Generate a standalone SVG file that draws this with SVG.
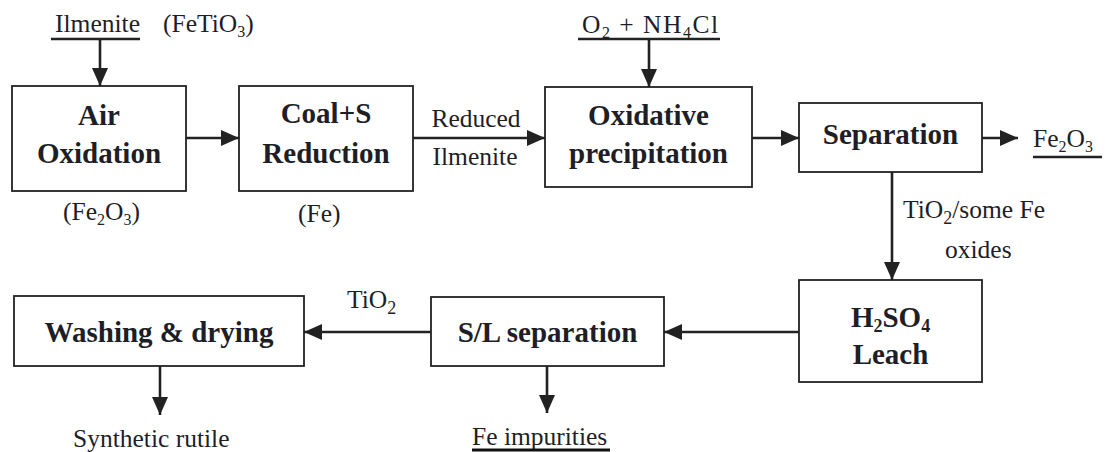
<svg xmlns="http://www.w3.org/2000/svg" width="1112" height="452" viewBox="0 0 1112 452">
<style>
.box{fill:none;stroke:#222;stroke-width:1.8}
.b{font-weight:bold;font-size:29px;fill:#1e1e26;text-anchor:middle}
.r{font-size:25.5px;fill:#1e1e26}
.c{stroke:#222;stroke-width:2.6;fill:none;marker-end:url(#ah)}
.u{stroke:#222;stroke-width:2.5}
</style>
<defs>
<marker id="ah" markerUnits="userSpaceOnUse" markerWidth="18" markerHeight="16" refX="18" refY="8" orient="auto">
<path d="M0,0 L18,8 L0,16 z" fill="#222"/>
</marker>
</defs>
<rect width="1112" height="452" fill="#fff"/>
<g id="connectors">
<line class="c" x1="100" y1="39" x2="100" y2="86"/>
<line class="c" x1="649" y1="39" x2="649" y2="87"/>
<line class="c" x1="186" y1="138" x2="239" y2="138"/>
<line class="c" x1="413" y1="138" x2="545" y2="138"/>
<line class="c" x1="752" y1="138" x2="799" y2="138"/>
<line class="c" x1="982" y1="138" x2="1018" y2="138"/>
<line class="c" x1="892" y1="172" x2="892" y2="280"/>
<line class="c" x1="799" y1="332" x2="664" y2="332"/>
<line class="c" x1="431" y1="332" x2="304" y2="332"/>
<line class="c" x1="160" y1="366" x2="160" y2="415"/>
<line class="c" x1="547" y1="366" x2="547" y2="413"/>
</g>
<g font-family="'Liberation Serif', 'DejaVu Serif', serif">
<g id="air-oxidation">
<rect class="box" x="12" y="86" width="174" height="105"/>
<text class="b" x="99" y="125">Air</text>
<text class="b" x="99" y="163">Oxidation</text>
</g>
<g id="reduction">
<rect class="box" x="239" y="86" width="174" height="105"/>
<text class="b" x="326" y="123">Coal+S</text>
<text class="b" x="326" y="163">Reduction</text>
</g>
<g id="oxidative-precipitation">
<rect class="box" x="545" y="87" width="207" height="100"/>
<text class="b" x="648.5" y="125">Oxidative</text>
<text class="b" x="648.5" y="163">precipitation</text>
</g>
<g id="separation">
<rect class="box" x="799" y="103" width="183" height="69"/>
<text class="b" x="890.5" y="144">Separation</text>
</g>
<g id="leach">
<rect class="box" x="799" y="280" width="183" height="102"/>
<text class="b" x="890.5" y="327">H<tspan font-size="18" dy="5">2</tspan><tspan dy="-5">SO</tspan><tspan font-size="18" dy="5">4</tspan></text>
<text class="b" x="890.5" y="364">Leach</text>
</g>
<g id="sl-separation">
<rect class="box" x="431" y="297" width="233" height="69"/>
<text class="b" x="547.5" y="342">S/L separation</text>
</g>
<g id="washing">
<rect class="box" x="14" y="296" width="290" height="70"/>
<text class="b" x="159" y="342">Washing &amp; drying</text>
</g>
<g id="labels">
<text class="r" x="55" y="32">Ilmenite</text>
<line class="u" x1="51" y1="39" x2="140" y2="39"/>
<text class="r" x="163" y="32">(FeTiO<tspan font-size="16" dy="5">3</tspan><tspan dy="-5">)</tspan></text>
<text class="r" x="63" y="220">(Fe<tspan font-size="16" dy="5">2</tspan><tspan dy="-5">O</tspan><tspan font-size="16" dy="5">3</tspan><tspan dy="-5">)</tspan></text>
<text class="r" x="298" y="222">(Fe)</text>
<text class="r" x="476" y="127" text-anchor="middle">Reduced</text>
<text class="r" x="475" y="165" text-anchor="middle">Ilmenite</text>
<text class="r" x="582" y="33" textLength="136" lengthAdjust="spacing">O<tspan font-size="16" dy="5">2</tspan><tspan dy="-5"> + NH</tspan><tspan font-size="16" dy="5">4</tspan><tspan dy="-5">Cl</tspan></text>
<line class="u" x1="578" y1="39" x2="720" y2="39"/>
<text class="r" x="1033" y="147">Fe<tspan font-size="16" dy="5">2</tspan><tspan dy="-5">O</tspan><tspan font-size="16" dy="5">3</tspan></text>
<line class="u" x1="1033" y1="157" x2="1102" y2="157" stroke-width="1.8"/>
<text class="r" x="903" y="218">TiO<tspan font-size="18" dy="6">2</tspan><tspan dy="-6">/some Fe</tspan></text>
<text class="r" x="945" y="258">oxides</text>
<text class="r" x="347" y="308">TiO<tspan font-size="18" dy="6">2</tspan></text>
<text class="r" x="73" y="447">Synthetic rutile</text>
<text class="r" x="472" y="445">Fe impurities</text>
<line x1="472" y1="450" x2="610" y2="450" stroke="#111" stroke-width="3"/>
</g>
</g>
</svg>
